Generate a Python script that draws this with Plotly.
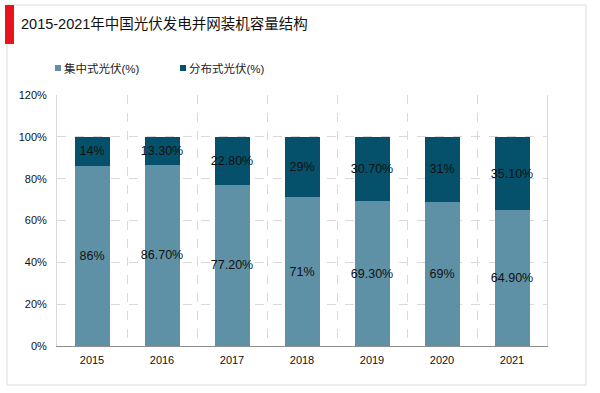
import plotly.graph_objects as go

years = ["2015", "2016", "2017", "2018", "2019", "2020", "2021"]
central = [86, 86.7, 77.2, 71, 69.3, 69, 64.9]
distributed = [14, 13.3, 22.8, 29, 30.7, 31, 35.1]
series_names = ["集中式光伏(%)", "分布式光伏(%)"]
title_text = "2015-2021年中国光伏发电并网装机容量结构"

W, H = 600, 393
ML, MR, MT, MB = 57, 53, 95, 47
PW, PH = W - ML - MR, H - MT - MB

def px(x):
    return (x - ML) / PW

def py(y):
    return (H - MB - y) / PH

def fmt(v):
    return f"{v:.0f}%" if float(v).is_integer() else f"{v:.2f}%"

FONT = "Liberation Sans, Arial, Noto Sans CJK SC, sans-serif"
LIGHT = "#5E90A6"
DARK = "#05506A"
colors = [LIGHT, DARK]

fig = go.Figure()
for name, vals, col in zip(series_names, [central, distributed], colors):
    fig.add_trace(go.Bar(
        x=years, y=vals, name=name,
        marker=dict(color=col, line=dict(width=0)),
        text=[fmt(v) for v in vals],
        textposition="inside", insidetextanchor="middle",
        textangle=0, constraintext="none",
        insidetextfont=dict(color="#111111", size=12.5, family=FONT),
        hoverinfo="skip", showlegend=False,
    ))

legend_x = [55, 180]
legend_y = 68
shapes = [
    dict(type="rect", xref="paper", yref="paper",
         x0=px(7), x1=px(586), y0=py(385), y1=py(5),
         line=dict(color="#DCDCDC", width=1), fillcolor="rgba(0,0,0,0)", layer="below"),
    dict(type="rect", xref="paper", yref="paper",
         x0=px(5), x1=px(14), y0=py(44), y1=py(5),
         line=dict(width=0), fillcolor="#E8141B"),
]
annotations = [
    dict(text=title_text, xref="paper", yref="paper", x=px(19), y=py(24),
         xanchor="left", yanchor="middle", showarrow=False,
         font=dict(size=14.5, color="#111111", family=FONT)),
]
for lx, name, col in zip(legend_x, series_names, colors):
    shapes.append(dict(type="rect", xref="paper", yref="paper",
                       x0=px(lx), x1=px(lx + 6), y0=py(legend_y + 3), y1=py(legend_y - 3),
                       line=dict(width=0), fillcolor=col))
    annotations.append(dict(text=name, xref="paper", yref="paper", x=px(lx + 7), y=py(legend_y),
                            xanchor="left", yanchor="middle", showarrow=False,
                            font=dict(size=11.5, color="#222222", family=FONT)))

fig.update_layout(
    width=W, height=H,
    margin=dict(l=ML, r=MR, t=MT, b=MB),
    barmode="stack", bargap=0.5,
    paper_bgcolor="white", plot_bgcolor="white",
    font=dict(family=FONT, color="#222222", size=11),
    showlegend=False,
    xaxis=dict(
        type="category", tickson="boundaries", range=[-0.5, 6.5],
        showgrid=True, gridcolor="#D9D9D9", griddash="dash", gridwidth=1,
        showline=True, linecolor="#8C8C8C", linewidth=1,
        ticks="", tickfont=dict(size=11, color="#111111"),
        ticklabelstandoff=4,
        zeroline=False,
    ),
    yaxis=dict(
        range=[0, 120], dtick=20, ticksuffix="%",
        showgrid=True, gridcolor="#D9D9D9", griddash="dash", gridwidth=1,
        showline=True, linecolor="#D9D9D9", linewidth=1, mirror=True,
        ticks="", tickfont=dict(size=11, color="#111111"),
        ticklabelstandoff=7,
        zeroline=False,
    ),
    shapes=shapes,
    annotations=annotations,
)

fig.write_html("out.html", config={"displayModeBar": False},
               post_script="document.body.style.margin='0';document.body.style.overflow='hidden';")
